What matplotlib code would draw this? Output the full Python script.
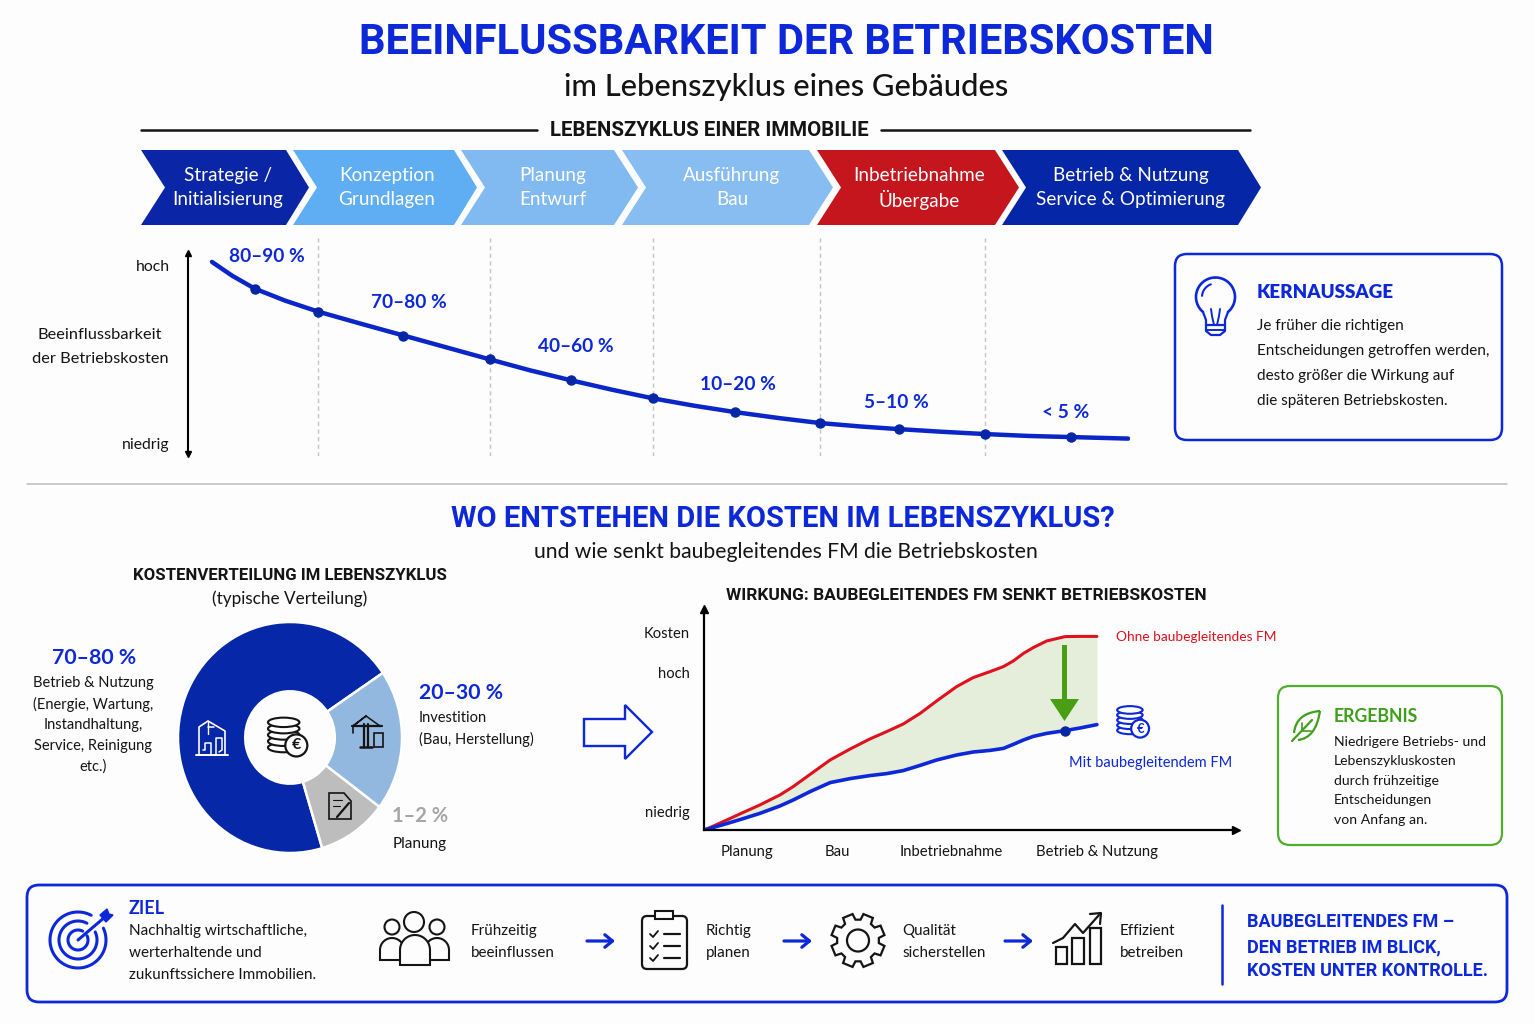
import numpy as np
import matplotlib
matplotlib.use('Agg')
import matplotlib.pyplot as plt
from matplotlib.patches import FancyBboxPatch, Polygon, Circle, Ellipse, PathPatch, Rectangle
from matplotlib.path import Path

W, H = 1535, 1024
BLUE = '#0D28D8'
DARK = '#0626A6'
RED = '#E0101E'
GREEN = '#4A9E14'
INK = '#141414'

# lifecycle stages
stage_top = ['Strategie /', 'Konzeption', 'Planung', 'Ausführung', 'Inbetriebnahme', 'Betrieb & Nutzung']
stage_bottom = ['Initialisierung', 'Grundlagen', 'Entwurf', 'Bau', 'Übergabe', 'Service & Optimierung']
stage_colors = ['#0A25A6', '#5FAEF3', '#80BAF0', '#88BDF1', '#C5161D', '#0626A8']

# influence curve: position along the timeline (0-100), influence level (0-100)
curve_x = [0, 2.2, 4.7, 8, 11.6, 16.2, 20.9, 25.6, 30.3, 34.7, 39.2, 43.7, 48.1, 52.6, 57.1, 61.8, 66.4,
           70.8, 75, 79.7, 84.4, 89.1, 93.8, 100]
curve_y = [96.8, 89.5, 82.6, 76.3, 70.5, 64.2, 57.9, 51.6, 45.3, 39.5, 34.2, 29.2, 24.7, 20.8, 17.4, 14.3,
           11.6, 9.8, 8.4, 7, 5.8, 4.8, 4.2, 3.4]
curve_marked = [2, 4, 6, 8, 10, 12, 14, 16, 18, 20, 22]
stage_borders = [11.6, 30.3, 48.1, 66.4, 84.4]
curve_labels = ['80–90 %', '70–80 %', '40–60 %', '10–20 %', '5–10 %', '< 5 %']
curve_ticks = [94.7, 1]
curve_ticklabels = ['hoch', 'niedrig']

# cost split, clockwise order from the top right
pie_values = [70.2, 10.1, 19.7]
pie_colors = ['#0527A8', '#BDBDBD', '#93B8DF']

# cost chart
cost_x = [0, 1.5, 5.8, 10, 14.2, 19.3, 22.7, 27, 32.1, 37.2, 42.2, 46.5, 50.7, 55, 59.2, 64.3, 68.5, 72.8,
          76.2, 78.7, 81.3, 83.8, 87.2, 91.9, 95.7, 100]
cost_without = [0, 1.2, 5, 8.8, 12.5, 17.5, 21.7, 27.8, 35, 40.5, 45.5, 49.2, 53, 58.3, 64.5, 71.7, 76.2,
                79.2, 81.7, 84.5, 88.3, 91.2, 94.5, 96.7, 96.8, 96.8]
cost_with = [0, 0.8, 3.2, 5.7, 8.3, 12, 15, 19.2, 23.7, 25.7, 27.2, 28.2, 29.7, 32.3, 35, 37.5, 39, 39.8,
             40.8, 42.8, 45, 46.8, 48.3, 49.7, 51, 52.7]
cost_marker = 23
phase_ticks = [10.9, 34, 63, 100]
phase_labels = ['Planung', 'Bau', 'Inbetriebnahme', 'Betrieb & Nutzung']
level_ticks = [9, 79, 98.5]
level_labels = ['niedrig', 'hoch', 'Kosten']

plt.rcParams['font.family'] = ['Lato', 'DejaVu Sans']
fig = plt.figure(figsize=(W / 100, H / 100), dpi=100, facecolor='#FDFDFD')


def px_axes(x0, y0, x1, y1, **kw):
    return fig.add_axes([x0 / W, 1 - y1 / H, (x1 - x0) / W, (y1 - y0) / H], **kw)


# overlay for text, boxes and icons, in pixels
ov = px_axes(0, 0, W, H, zorder=5)
ov.set_xlim(0, W)
ov.set_ylim(H, 0)
ov.axis('off')
ov.patch.set_alpha(0)


def T(x, y, s, size, color=INK, weight='normal', ha='center', **kw):
    ov.text(x, y + 2, s, fontsize=size, color=color, fontweight=weight, ha=ha, va='center', **kw)


def box(x0, y0, x1, y1, color, lw=1.8, r=12, fc='none', z=1):
    ov.add_patch(FancyBboxPatch((x0 + r, y0 + r), x1 - x0 - 2 * r, y1 - y0 - 2 * r,
                                boxstyle=f'round,pad={r},rounding_size={r}', ec=color, fc=fc, lw=lw, zorder=z))


def line(xs, ys, color=INK, lw=1.5, **kw):
    ov.plot(xs, ys, color=color, lw=lw, solid_capstyle='round', **kw)


def coins(cx, cy, color, s=1.0):
    # stack of discs with a euro badge
    w, h = 30 * s, 9 * s
    for i in range(4, -1, -1):
        yy = cy - 13 * s + i * 6 * s
        ov.add_patch(Ellipse((cx - 6 * s, yy), w, h, fc='white', ec=color, lw=1.5, zorder=6 + (4 - i) * 0.01))
    ov.add_patch(Circle((cx + 6 * s, cy + 9 * s), 10.5 * s, fc='white', ec=color, lw=1.6, zorder=7))
    ov.text(cx + 6 * s, cy + 9 * s, '€', fontsize=11 * s, color=color, fontweight='bold', ha='center',
            va='center', zorder=8)


def body(cx, top, w, bottom, color=INK, lw=1.5):
    a = np.linspace(np.pi, 0, 24)
    xs = np.r_[cx - w / 2, cx + w / 2 * np.cos(a), cx + w / 2, cx - w / 2]
    ys = np.r_[bottom, top + w / 2 - w / 2 * np.sin(a), bottom, bottom]
    ov.add_patch(Polygon(np.c_[xs, ys], closed=True, fc='#FDFDFD', ec=color, lw=lw, zorder=4))


# ---- headings
T(786, 40, 'BEEINFLUSSBARKEIT DER BETRIEBSKOSTEN', 30, BLUE, 'bold', family='Roboto')
T(786, 85, 'im Lebenszyklus eines Gebäudes', 22.2, INK, 'medium')
line([141, 537], [130, 130], INK, 1.8)
line([881, 1250], [130, 130], INK, 1.8)
T(709, 129, 'LEBENSZYKLUS EINER IMMOBILIE', 14.7, INK, 'bold', family='Roboto')

# ---- chevrons
chevrons = [(141, 165, 286, 309), (293, 317, 454, 477), (461, 485, 614, 638),
            (622, 646, 809, 833), (817, 841, 995, 1019), (1002, 1026, 1238, 1261)]
stage_centers = [227.5, 387, 553, 732, 919, 1131]
for (l, n, r, t), col, a, b, cx in zip(chevrons, stage_colors, stage_top, stage_bottom, stage_centers):
    ov.add_patch(Polygon([(l, 150), (r, 150), (t, 187.5), (r, 225), (l, 225), (n, 187.5)], fc=col, ec='none', zorder=1))
    T(cx, 173.5, a, 13.6, 'white')
    T(cx, 197.5, b, 13.6, 'white')

# ---- influence curve
ax = px_axes(188, 236, 1130, 456)
ax.set_xlim(-2.62, 100.2)
ax.set_ylim(-5.8, 110.5)
ax.patch.set_alpha(0)
for s in ['top', 'right', 'bottom']:
    ax.spines[s].set_visible(False)
ax.spines['left'].set_bounds(-4.7, 101.6)
ax.spines['left'].set_linewidth(1.5)
ax.plot([-2.62], [101.6], '^', color='k', ms=5, clip_on=False)
ax.plot([-2.62], [-4.7], 'v', color='k', ms=5, clip_on=False)
ax.set_xticks([])
ax.set_yticks(curve_ticks)
ax.set_yticklabels(curve_ticklabels, fontsize=11.3, color=INK)
ax.tick_params(axis='y', length=0, pad=13)
ax.vlines(stage_borders, -5.8, 110.5, color='#C4C4C4', lw=1, linestyles=(0, (3, 2.5)))
ax.plot(curve_x, curve_y, color='#0A25C8', lw=3.2, solid_capstyle='round')
ax.plot([curve_x[i] for i in curve_marked], [curve_y[i] for i in curve_marked], 'o', color=DARK, ms=6.5)

label_pos = [(267, 255), (409, 300), (576, 344), (738, 383), (896, 400), (1066, 410)]
for (x, y), s in zip(label_pos, curve_labels):
    T(x, y, s, 13.8, BLUE, 'bold')
T(100, 333, 'Beeinflussbarkeit', 11.8, INK)
T(100, 357, 'der Betriebskosten', 11.8, INK)

# ---- Kernaussage
box(1175, 254, 1502, 440, BLUE)
T(1257, 290, 'KERNAUSSAGE', 13.5, BLUE, 'heavy', ha='left')
for y, s in zip([324, 349, 374, 399], ['Je früher die richtigen', 'Entscheidungen getroffen werden,',
                                       'desto größer die Wirkung auf', 'die späteren Betriebskosten.']):
    T(1257, y, s, 11, INK, ha='left')
a = np.radians(np.linspace(-50, 230, 60))
line(1215.5 + 19.5 * np.cos(a), 297 - 19.5 * np.sin(a), BLUE, 1.9)
a = np.radians(np.linspace(110, 175, 20))
line(1215.5 + 13.5 * np.cos(a), 297 - 13.5 * np.sin(a), BLUE, 1.5)
line([1203, 1206, 1206], [312, 320, 325], BLUE, 1.6)
line([1228, 1225, 1225], [312, 320, 325], BLUE, 1.6)
line([1206, 1225, 1225, 1220, 1211, 1206, 1206], [325, 325, 331, 335, 335, 331, 325], BLUE, 1.6)
line([1206, 1225], [330, 330], BLUE, 1.4)
line([1211, 1212, 1214], [309, 316, 325], BLUE, 1.4)
line([1220, 1219, 1217], [309, 316, 325], BLUE, 1.4)

# ---- divider and section head
line([27, 1507], [484, 484], '#BDBDBD', 1.1)
T(783, 517, 'WO ENTSTEHEN DIE KOSTEN IM LEBENSZYKLUS?', 21, BLUE, 'bold', family='Roboto')
T(786, 550, 'und wie senkt baubegleitendes FM die Betriebskosten', 15.2, INK)
T(290, 574, 'KOSTENVERTEILUNG IM LEBENSZYKLUS', 12.1, INK, 'bold', family='Roboto')
T(290, 597, '(typische Verteilung)', 12.3, INK)

# ---- donut
axp = px_axes(178, 622, 402, 853)
axp.pie(pie_values, colors=pie_colors, startangle=34, radius=1,
        wedgeprops={'width': 0.6, 'edgecolor': 'white', 'linewidth': 1.8})
axp.set_aspect('auto')
axp.set_xlim(-1, 1)
axp.set_ylim(-1, 1)

T(94, 656, '70–80 %', 15.3, BLUE, 'bold')
for y, s in zip([681, 702, 723, 744, 765], ['Betrieb & Nutzung', '(Energie, Wartung,', 'Instandhaltung,',
                                            'Service, Reinigung', 'etc.)']):
    T(93, y, s, 10.5, INK)
T(419, 691, '20–30 %', 15.3, BLUE, 'bold', ha='left')
T(419, 716, 'Investition', 10.5, INK, ha='left')
T(419, 737, '(Bau, Herstellung)', 10.5, INK, ha='left')
T(392, 814, '1–2 %', 14.5, '#A6A6A6', 'bold', ha='left')
T(393, 842, 'Planung', 11, INK, ha='left')

coins(290, 736, INK, 1.05)

# building icon in the blue ring
line([199, 199, 208, 225, 225], [755, 727, 721, 731, 755], 'white', 1.2)
line([196, 228], [755, 755], 'white', 1.4)
line([208, 208], [721, 734], 'white', 1.0)
line([208, 214], [727, 727], 'white', 1.1)
line([203, 205, 205, 211, 211], [750, 750, 743, 743, 755], 'white', 1.1)
line([216, 216, 222, 222, 219], [755, 738, 738, 750, 752], 'white', 1.1)

# crane
line([364, 364], [724, 747], INK, 1.6)
line([368, 368], [724, 747], INK, 1.6)
line([352, 382], [726, 726], INK, 1.6)
line([366, 353, 366, 380], [716, 726, 716, 726], INK, 1.1)
line([353, 353], [726, 733], INK, 1.2)
line([360, 372], [747, 747], INK, 1.8)
ov.add_patch(Rectangle((374, 733), 9, 14, fc='none', ec=INK, lw=1.2, zorder=6))

# plan document
ov.add_patch(Polygon([(329, 793), (344, 793), (351, 801), (351, 819), (329, 819)], fc='none', ec=INK, lw=1.2, zorder=6))
line([333, 342], [800, 800], INK, 0.8)
line([333, 340], [806, 806], INK, 0.8)
line([337, 349], [817, 803], INK, 1.6)

# ---- big arrow
ov.add_patch(Polygon([(584, 719), (625, 719), (625, 705), (652, 732), (625, 759), (625, 746), (584, 746)],
                     fc='none', ec=BLUE, lw=1.7))

# ---- cost chart
T(966, 593, 'WIRKUNG: BAUBEGLEITENDES FM SENKT BETRIEBSKOSTEN', 12.5, INK, 'bold', family='Roboto')
axc = px_axes(704, 609, 1236, 830)
axc.set_xlim(0, 135.4)
axc.set_ylim(0, 110.5)
axc.patch.set_alpha(0)
for s in ['top', 'right']:
    axc.spines[s].set_visible(False)
axc.spines['left'].set_linewidth(1.6)
axc.spines['bottom'].set_linewidth(1.6)
axc.plot(1, 0, '>', color='k', ms=6, transform=axc.transAxes, clip_on=False)
axc.plot(0, 1, '^', color='k', ms=6, transform=axc.transAxes, clip_on=False)
axc.set_xticks(phase_ticks)
axc.set_xticklabels(phase_labels, fontsize=10.7, color=INK)
axc.set_yticks(level_ticks)
axc.set_yticklabels(level_labels, fontsize=10.6, color=INK)
axc.tick_params(axis='both', length=0)
axc.tick_params(axis='x', pad=11)
axc.tick_params(axis='y', pad=10)
axc.fill_between(cost_x, cost_with, cost_without, color='#E4EEDB', lw=0)
axc.plot(cost_x, cost_without, color=RED, lw=2.2, solid_capstyle='round')
axc.plot(cost_x, cost_with, color=BLUE, lw=2.6, solid_capstyle='round')
axc.plot(cost_x[cost_marker], cost_with[cost_marker], 'o', color=DARK, ms=6.5)

ov.add_patch(Polygon([(1062, 645), (1067, 645), (1067, 699), (1079, 699), (1064.5, 721), (1050, 699), (1062, 699)],
                     fc=GREEN, ec='none', zorder=4))
T(1116, 635, 'Ohne baubegleitendes FM', 9.9, RED, ha='left')
T(1151, 761, 'Mit baubegleitendem FM', 10.5, BLUE, ha='center')
coins(1135, 721, BLUE, 0.85)

# ---- Ergebnis
box(1278, 686, 1502, 845, '#4FAE2B', lw=1.6)
T(1334, 714, 'ERGEBNIS', 12.7, '#3F9E1A', 'bold', ha='left')
for y, s in zip([740, 759, 779, 798, 818], ['Niedrigere Betriebs- und', 'Lebenszykluskosten', 'durch frühzeitige',
                                            'Entscheidungen', 'von Anfang an.']):
    T(1334, y, s, 10.1, INK, ha='left')
leaf = Path([(1320, 711), (1296, 713), (1294, 733), (1298, 740), (1316, 738), (1320, 711)],
            [Path.MOVETO, Path.CURVE3, Path.CURVE3, Path.MOVETO, Path.CURVE3, Path.CURVE3])
ov.add_patch(PathPatch(leaf, fc='none', ec='#3F9E1A', lw=1.6))
line([1292, 1312], [741, 720], '#3F9E1A', 1.6)
line([1302, 1302], [731, 723], '#3F9E1A', 1.2)
line([1303, 1311], [731, 731], '#3F9E1A', 1.2)

# ---- bottom band
box(27, 885, 1507, 1002, BLUE, lw=2)
T(129, 906, 'ZIEL', 13, BLUE, 'bold', ha='left')
for y, s in zip([929, 951, 973], ['Nachhaltig wirtschaftliche,', 'werterhaltende und', 'zukunftssichere Immobilien.']):
    T(129, y, s, 11, INK, ha='left')

a = np.radians(np.linspace(62, 385, 70))
for r in (28, 19, 10):
    line(78 + r * np.cos(a), 940 - r * np.sin(a), BLUE, 2.2)
line([78, 105], [940, 917], BLUE, 2.2)
ov.add_patch(Polygon([(100, 915), (107, 909), (109, 914), (113, 915), (106, 922)], fc=BLUE, ec=BLUE, lw=1))

for cx, cy, r in [(392, 927, 7.5), (437, 927, 7.5)]:
    ov.add_patch(Circle((cx, cy), r, fc='none', ec=INK, lw=1.5))
ov.add_patch(Circle((414, 922), 10, fc='none', ec=INK, lw=1.5))
body(392, 938, 24, 960)
body(437, 938, 24, 960)
body(415, 935, 30, 965)
T(471, 929, 'Frühzeitig', 10.9, INK, ha='left')
T(471, 951, 'beeinflussen', 10.9, INK, ha='left')

box(642, 916, 687, 969, INK, lw=1.6, r=5)
ov.add_patch(Rectangle((655, 911), 18, 8, fc='#FDFDFD', ec=INK, lw=1.5, zorder=3))
for y in (934, 946, 958):
    line([650, 653, 658], [y, y + 3, y - 3], INK, 1.3)
    line([664, 680], [y, y], INK, 1.6)
T(706, 929, 'Richtig', 10.9, INK, ha='left')
T(706, 951, 'planen', 10.9, INK, ha='left')

# gear
th = np.linspace(0, 2 * np.pi, 8, endpoint=False)
gear_pts = []
for t in th:
    for dt, r in [(-0.27, 21), (-0.19, 27), (0.19, 27), (0.27, 21)]:
        gear_pts.append((858 + r * np.cos(t + dt + np.pi / 8), 940.5 + r * np.sin(t + dt + np.pi / 8)))
ov.add_patch(Polygon(gear_pts, closed=True, fc='none', ec=INK, lw=1.6))
ov.add_patch(Circle((858, 940.5), 11, fc='none', ec=INK, lw=1.6))
T(902, 929, 'Qualität', 10.9, INK, ha='left')
T(902, 951, 'sicherstellen', 10.9, INK, ha='left')

for x0, y0, w, h in [(1056, 947, 11, 17), (1072, 938, 12, 26), (1090, 928, 11, 36)]:
    ov.add_patch(Rectangle((x0, y0), w, h, fc='none', ec=INK, lw=1.6))
line([1053, 1063, 1075, 1083, 1099], [943, 938, 924, 933, 915], INK, 1.6)
line([1090, 1101, 1100], [914, 913, 924], INK, 1.6)
T(1120, 929, 'Effizient', 10.9, INK, ha='left')
T(1120, 951, 'betreiben', 10.9, INK, ha='left')

for x0 in (587, 784, 1005):
    ov.annotate('', xy=(x0 + 28, 941), xytext=(x0, 941),
                arrowprops=dict(arrowstyle='->,head_length=0.55,head_width=0.45', color=BLUE, lw=2.3, shrinkA=0, shrinkB=0))

line([1222, 1222], [905, 984], BLUE, 1.8)
for y, s in zip([920, 945, 969], ['BAUBEGLEITENDES FM –', 'DEN BETRIEB IM BLICK,', 'KOSTEN UNTER KONTROLLE.']):
    T(1247, y, s, 13, BLUE, 'bold', ha='left', family='Roboto')

fig.savefig('out.png', dpi=100, facecolor=fig.get_facecolor())
